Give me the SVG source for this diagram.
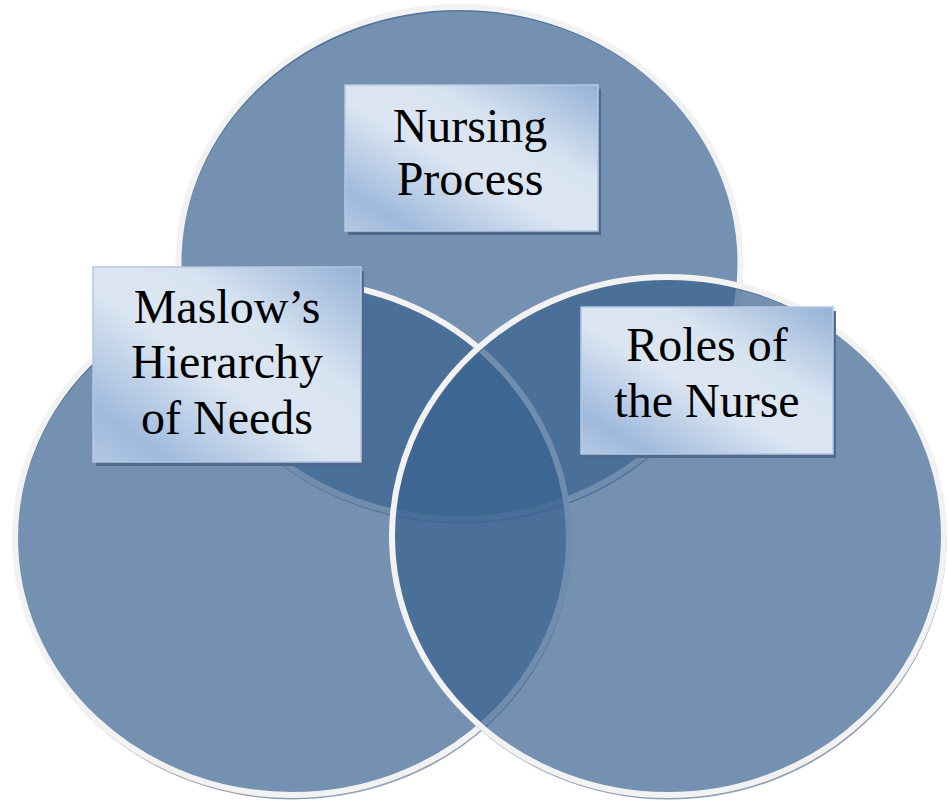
<svg xmlns="http://www.w3.org/2000/svg" width="948" height="802" viewBox="0 0 948 802">
  <defs>
    <linearGradient id="boxGrad" x1="0" y1="1" x2="1" y2="0">
      <stop offset="0" stop-color="#b3c8e3"/>
      <stop offset="0.14" stop-color="#9fbadd"/>
      <stop offset="0.45" stop-color="#dce6f2"/>
      <stop offset="0.66" stop-color="#d9e4f1"/>
      <stop offset="1" stop-color="#93b1d6"/>
    </linearGradient>
    <style>
      .circ { fill: rgb(57,98,144); fill-opacity: 0.7; stroke: #f2f2f2; stroke-width: 6; }
      .csh { fill: none; stroke: #7d8ea5; stroke-width: 3; stroke-opacity: 0.85; }
      .box { fill: url(#boxGrad); stroke: #b4c8e2; stroke-width: 1.5; }
      .bsh { fill: #4e6b8f; }
      .lbl { font-family: "Liberation Serif", "Times New Roman", serif; font-size: 48px; fill: #000; text-anchor: middle; }
    </style>
  </defs>
  <g id="circles">
    <g id="circle-top">
      <ellipse class="csh" cx="460.5" cy="266" rx="281" ry="256"/>
      <ellipse class="circ" cx="459.5" cy="263" rx="281" ry="256"/>
    </g>
    <g id="circle-left">
      <ellipse class="csh" cx="293" cy="541" rx="277" ry="257"/>
      <ellipse class="circ" cx="292" cy="538" rx="277" ry="257"/>
    </g>
    <g id="circle-right">
      <ellipse class="csh" cx="669" cy="539" rx="276" ry="259"/>
      <ellipse class="circ" cx="668" cy="536" rx="276" ry="259"/>
    </g>
  </g>
  <g id="connectors"/>
  <g id="node-nursing-process">
    <rect class="bsh" x="348" y="89" width="253" height="146"/>
    <rect class="box" x="345" y="85" width="253" height="146"/>
    <text class="lbl" x="470" y="142">Nursing</text>
    <text class="lbl" x="470" y="195">Process</text>
  </g>
  <g id="node-maslow">
    <rect class="bsh" x="96" y="271" width="268" height="195"/>
    <rect class="box" x="93" y="267" width="268" height="195"/>
    <text class="lbl" x="227" y="323">Maslow’s</text>
    <text class="lbl" x="227" y="378">Hierarchy</text>
    <text class="lbl" x="227" y="434">of Needs</text>
  </g>
  <g id="node-roles">
    <rect class="bsh" x="584" y="311" width="252" height="147"/>
    <rect class="box" x="581" y="307" width="252" height="147"/>
    <text class="lbl" x="707" y="361">Roles of</text>
    <text class="lbl" x="707" y="417">the Nurse</text>
  </g>
</svg>
